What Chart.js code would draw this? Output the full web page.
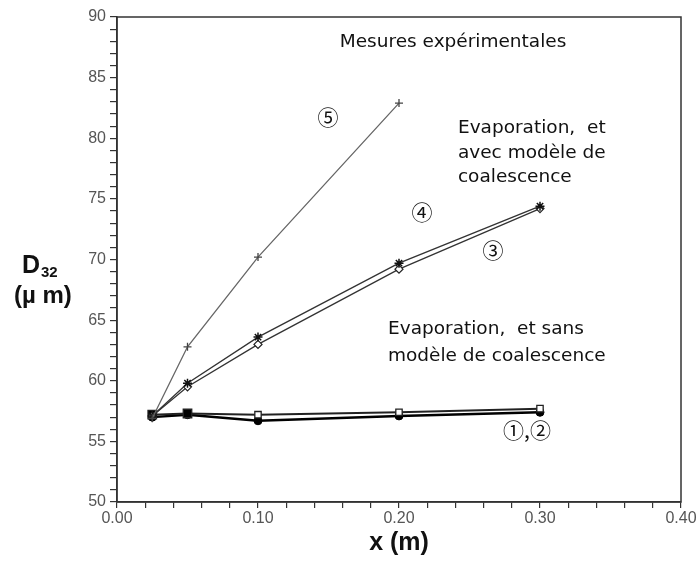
<!DOCTYPE html>
<html>
<head>
<meta charset="utf-8">
<script src="https://cdn.jsdelivr.net/npm/chart.js@4.4.1/dist/chart.umd.min.js"></script>
<style>
  html, body { margin: 0; padding: 0; background: #fff; }
  #wrap { width: 699px; height: 562px; }
</style>
</head>
<body>
<div id="wrap"><canvas id="chart" width="699" height="562"></canvas></div>
<script>
// positions along the duct (m)
const xPos = [0.025, 0.05, 0.10, 0.20, 0.30];
const xPosMeasured = [0.025, 0.05, 0.10, 0.20];

// D32 (um) per curve
const d32Curve1 = [57.2, 57.3, 57.2, 57.4, 57.7];
const d32Curve2 = [57.0, 57.2, 56.7, 57.1, 57.4];
const d32Curve3 = [57.1, 59.5, 63.0, 69.2, 74.2];
const d32Curve4 = [57.1, 59.8, 63.6, 69.7, 74.4];
const d32Curve5 = [56.9, 62.8, 70.2, 82.9];

const yTickLabels = [50, 55, 60, 65, 70, 75, 80, 85, 90];
const xTickLabels = ['0.00', '0.10', '0.20', '0.30', '0.40'];

// text notes placed in data coordinates
const notes = [
    { text: 'Mesures expérimentales', x: 0.158, y: 87.9, align: 'left' },
    { text: '⑤', x: 0.1496, y: 81.75, align: 'center' },
    { text: 'Evaporation,  et', x: 0.2418, y: 80.85, align: 'left' },
    { text: 'avec modèle de', x: 0.2418, y: 78.75, align: 'left' },
    { text: 'coalescence', x: 0.2418, y: 76.75, align: 'left' },
    { text: '④', x: 0.2163, y: 73.9, align: 'center' },
    { text: '③', x: 0.2667, y: 70.8, align: 'center' },
    { text: 'Evaporation,  et sans', x: 0.1922, y: 64.27, align: 'left' },
    { text: 'modèle de coalescence', x: 0.1922, y: 62.05, align: 'left' },
    { text: '①,②', x: 0.2738, y: 55.94, align: 'left' }
];

function toPoints(xs, ys) {
    return ys.map((y, i) => ({ x: xs[i], y: y }));
}

// frame + annotations + axis titles
const decorPlugin = {
    id: 'decor',
    afterDraw(chart) {
        const ctx = chart.ctx;
        const area = chart.chartArea;
        const xs = chart.scales.x;
        const ys = chart.scales.y;

        ctx.save();
        ctx.strokeStyle = '#333';
        ctx.lineWidth = 1.5;
        ctx.strokeRect(area.left, area.top, area.right - area.left, area.bottom - area.top);

        ctx.fillStyle = '#111';
        ctx.textBaseline = 'middle';
        notes.forEach(n => {
            const isCircled = /[①-⑤]/.test(n.text);
            ctx.font = isCircled ? '21px "Noto Sans CJK JP", "DejaVu Sans"' : '18.5px "DejaVu Sans"';
            ctx.textAlign = n.align;
            ctx.fillText(n.text, xs.getPixelForValue(n.x), ys.getPixelForValue(n.y));
        });

        // y title: D32 (um)
        ctx.fillStyle = '#111';
        ctx.textAlign = 'left';
        ctx.font = 'bold 25px "Liberation Sans"';
        ctx.fillText('D', area.left - 95, 266);
        ctx.font = 'bold 15px "Liberation Sans"';
        ctx.fillText('32', area.left - 76, 273);
        ctx.font = 'bold 24px "Liberation Sans"';
        ctx.fillText('(µ m)', area.left - 103, 296);

        // x title
        ctx.textAlign = 'center';
        ctx.font = 'bold 25px "Liberation Sans Narrow", "Liberation Sans"';
        ctx.fillText('x (m)', (area.left + area.right) / 2, area.bottom + 41);
        ctx.restore();
    }
};

const lineDefaults = { showLine: true, fill: false, tension: 0 };

new Chart(document.getElementById('chart'), {
    type: 'scatter',
    data: {
        datasets: [
            Object.assign({
                label: '5',
                data: toPoints(xPosMeasured, d32Curve5),
                borderColor: '#666',
                borderWidth: 1.3,
                pointStyle: 'cross',
                pointRadius: 4,
                pointBorderColor: '#444',
                pointBorderWidth: 1.3
            }, lineDefaults),
            Object.assign({
                label: '4',
                data: toPoints(xPos, d32Curve4),
                borderColor: '#333',
                borderWidth: 1.3,
                pointStyle: 'star',
                pointRadius: 4.5,
                pointBorderColor: '#111',
                pointBorderWidth: 1.5
            }, lineDefaults),
            Object.assign({
                label: '3',
                data: toPoints(xPos, d32Curve3),
                borderColor: '#333',
                borderWidth: 1.3,
                pointStyle: 'rectRot',
                pointRadius: 4,
                pointBackgroundColor: '#fff',
                pointBorderColor: '#222',
                pointBorderWidth: 1.2
            }, lineDefaults),
            Object.assign({
                label: '1',
                data: toPoints(xPos, d32Curve1),
                borderColor: '#222',
                borderWidth: 2,
                pointStyle: 'rect',
                pointRadius: ctx => ctx.dataIndex < 2 ? 6 : 4.5,
                pointBackgroundColor: ctx => ctx.dataIndex < 2 ? '#000' : '#fff',
                pointBorderColor: '#222',
                pointBorderWidth: 1.3
            }, lineDefaults),
            Object.assign({
                label: '2',
                data: toPoints(xPos, d32Curve2),
                borderColor: '#000',
                borderWidth: 2.5,
                pointStyle: 'circle',
                pointRadius: 4,
                pointBackgroundColor: '#000',
                pointBorderColor: '#000',
                pointBorderWidth: 1
            }, lineDefaults)
        ]
    },
    options: {
        responsive: false,
        animation: false,
        layout: { padding: { top: 17, right: 18, bottom: 0, left: 0 } },
        plugins: {
            legend: { display: false },
            tooltip: { enabled: false }
        },
        scales: {
            x: {
                type: 'linear',
                min: 0,
                max: 0.4,
                afterFit: scale => { scale.height = 60; },
                border: { display: true, color: '#333', width: 1.5 },
                grid: { drawOnChartArea: false, drawTicks: true, tickLength: 6, color: '#333', lineWidth: 1.2 },
                ticks: {
                    stepSize: 0.02,
                    autoSkip: false,
                    maxRotation: 0,
                    padding: 1,
                    color: '#555',
                    font: { family: '"Liberation Sans"', size: 16 },
                    callback: (value, index) => index % 5 === 0 ? xTickLabels[index / 5] : ''
                }
            },
            y: {
                type: 'linear',
                min: 50,
                max: 90,
                afterFit: scale => { scale.width = 117; },
                border: { display: true, color: '#333', width: 1.5 },
                grid: { drawOnChartArea: false, drawTicks: true, tickLength: 7, color: '#333', lineWidth: 1.2 },
                ticks: {
                    stepSize: 1,
                    autoSkip: false,
                    padding: 4,
                    color: '#555',
                    font: { family: '"Liberation Sans"', size: 16 },
                    callback: value => yTickLabels.includes(value) ? String(value) : ''
                }
            }
        }
    },
    plugins: [decorPlugin]
});
</script>
</body>
</html>
